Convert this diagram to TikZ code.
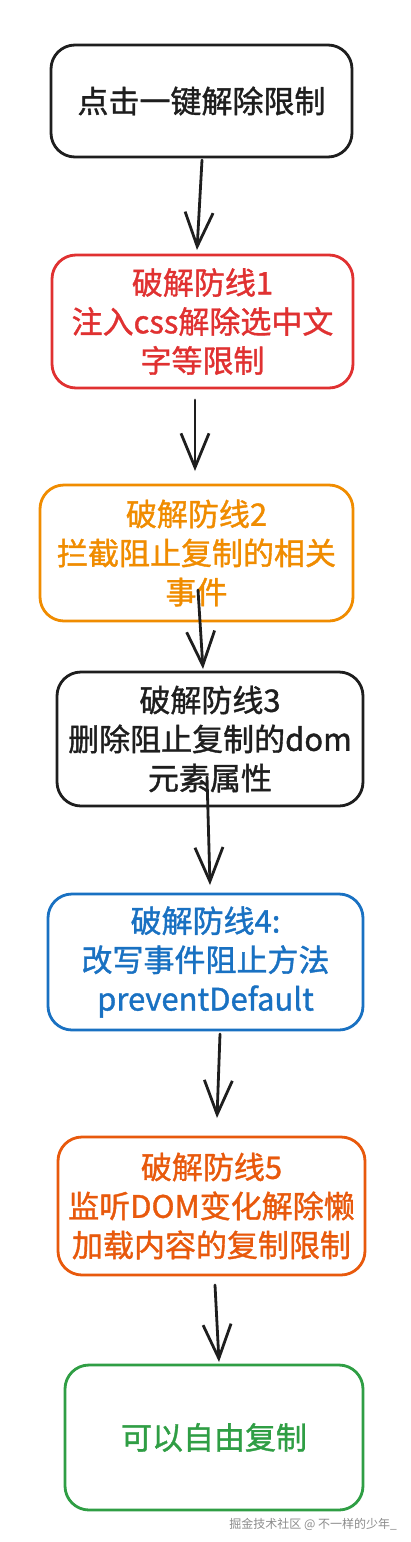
\documentclass[tikz,border=0pt]{standalone}
\usepackage{fontspec}
\setmainfont{Noto Sans CJK SC}
\newfontfamily\cjk{Noto Sans CJK SC}[FakeBold=1.2]
\newfontfamily\cjkwm{Noto Sans CJK SC}
\usetikzlibrary{arrows.meta}
\definecolor{ink}{HTML}{1E1E1E}
\definecolor{cred}{HTML}{E03131}
\definecolor{corange}{HTML}{F08C00}
\definecolor{cblue}{HTML}{1971C2}
\definecolor{cdeep}{HTML}{E8590C}
\definecolor{cgreen}{HTML}{2F9E44}
\definecolor{wm}{HTML}{8C8C8C}
\tikzset{
  box/.style={draw=#1, text=#1, line width=2.8pt, rounded corners=24pt,
    align=center, inner sep=0pt, font=\cjk\fontsize{31}{39}\selectfont},
  flow/.style={draw=ink, line width=2.8pt, line cap=round,
    -{Straight Barb[length=34pt,width=28pt,line width=2.8pt]}},
}
\begin{document}
\begin{tikzpicture}[x=1pt,y=1pt]
\useasboundingbox (0,0) rectangle (410,-1542);
\fill[white] (0,0) rectangle (410,-1542);

\node[box=ink, minimum width=301pt, minimum height=112pt] (b1) at (201.5,-101) {点击一键解除限制};
\node[box=cred, minimum width=301pt, minimum height=133pt] (b2) at (202.5,-321.5) {破解防线1\\注入css解除选中文\\字等限制};
\node[box=corange, minimum width=313pt, minimum height=136pt] (b3) at (196.5,-553) {破解防线2\\拦截阻止复制的相关\\事件};
\node[box=ink, minimum width=306pt, minimum height=134pt] (b4) at (210,-739) {破解防线3\\删除阻止复制的dom\\元素属性};
\node[box=cblue, minimum width=315pt, minimum height=136pt] (b5) at (205.5,-962) {破解防线4:\\改写事件阻止方法\\preventDefault};
\node[box=cdeep, minimum width=307pt, minimum height=138pt] (b6) at (211.5,-1206) {破解防线5\\监听DOM变化解除懒\\加载内容的复制限制};
\node[box=cgreen, minimum width=298pt, minimum height=145pt] (b7) at (214,-1437.5) {可以自由复制};

\coordinate (s1) at (202,-160);  \coordinate (e1) at (197,-250);
\coordinate (s2) at (195,-400);  \coordinate (e2) at (195,-471);
\coordinate (s3) at (198,-590);  \coordinate (e3) at (203,-669);
\coordinate (s4) at (207,-777);  \coordinate (e4) at (210,-885);
\coordinate (s5) at (220,-1034); \coordinate (e5) at (217,-1118);
\coordinate (s6) at (215,-1285); \coordinate (e6) at (219,-1362);

\draw[flow] (s1) -- (e1);
\draw[flow] (s2) -- (e2);
\draw[flow] (s3) -- (e3);
\draw[flow] (s4) -- (e4);
\draw[flow] (s5) -- (e5);
\draw[flow] (s6) -- (e6);

\node[anchor=east, text=wm, inner sep=0pt, font=\cjkwm\fontsize{12}{14}\selectfont] (wmk) at (397,-1524) {掘金技术社区 @ 不一样的少年\_};
\end{tikzpicture}
\end{document}
